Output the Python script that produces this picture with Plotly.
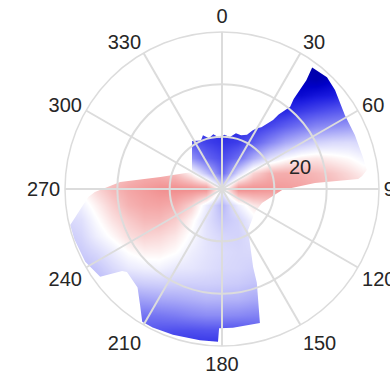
import math
import plotly.graph_objects as go

# ---------------------------------------------------------------------------
# Field samples on a regular x/y grid (same units as the radial axis, 0-30).
# Rows run from the top (y = 30) to the bottom (y = -30); None = no sample.
# ---------------------------------------------------------------------------
grid_x = [-30, -27, -24, -21, -18, -15, -12, -9, -6, -3, 0,
          3, 6, 9, 12, 15, 18, 21, 24, 27, 30]
grid_y = [30, 27, 24, 21, 18, 15, 12, 9, 6, 3, 0,
          -3, -6, -9, -12, -15, -18, -21, -24, -27, -30]
N = None
field_rows = [
    [N, N, N, N, N, N, N, N, N, N, N, N, N, N, N, N, N, N, N, N, N],
    [N, N, N, N, N, N, N, N, N, N, N, N, N, N, N, N, N, N, N, N, N],
    [N, N, N, N, N, N, N, N, N, N, 0.78, 0.81, 0.83, 0.86, 0.89, 0.91, 0.93, 0.93, 0.88, N, N],
    [N, N, N, N, N, N, N, N, 0.75, 0.76, 0.77, 0.78, 0.815, 0.84, 0.86, 0.88, 0.91, 0.86, 0.82, N, N],
    [N, N, N, N, N, N, N, 0.73, 0.75, 0.76, 0.75, 0.765, 0.785, 0.80, 0.80, 0.815, 0.78, 0.76, 0.70, 0.64, N],
    [N, N, N, N, N, N, 0.66, 0.70, 0.73, 0.735, 0.735, 0.75, 0.745, 0.74, 0.72, 0.66, 0.62, 0.58, 0.55, 0.50, 0.42],
    [N, N, N, N, N, 0.48, 0.54, 0.62, 0.69, 0.715, 0.72, 0.715, 0.69, 0.63, 0.55, 0.48, 0.42, 0.39, 0.36, 0.32, 0.28],
    [N, N, N, N, N, 0.25, 0.35, 0.47, 0.59, 0.645, 0.69, 0.655, 0.56, 0.43, 0.31, 0.23, 0.17, 0.14, 0.13, 0.15, 0.15],
    [0.08, 0.03, -0.02, -0.06, -0.08, -0.05, 0.07, 0.21, 0.37, 0.53, 0.615, 0.50, 0.29, 0.12, 0.015, -0.05, -0.07, -0.04, -0.01, 0.04, 0.04],
    [0.10, 0.04, -0.05, -0.14, -0.20, -0.24, -0.24, -0.19, -0.03, 0.22, 0.52, 0.15, -0.12, -0.24, -0.25, -0.24, -0.21, -0.17, -0.11, -0.05, -0.03],
    [0.03, -0.015, -0.12, -0.21, -0.275, -0.31, -0.34, -0.355, -0.355, -0.35, 0.05, -0.36, -0.35, -0.33, -0.31, -0.29, -0.26, -0.22, -0.17, -0.12, -0.08],
    [0.11, 0.055, -0.04, -0.14, -0.23, -0.27, -0.28, -0.25, -0.14, 0.065, 0.27, 0.06, -0.065, -0.12, -0.16, -0.18, -0.18, -0.165, -0.13, -0.10, -0.08],
    [0.15, 0.115, 0.013, -0.083, -0.155, -0.21, -0.21, -0.15, -0.03, 0.108, 0.21, 0.16, 0.04, -0.03, -0.08, -0.10, -0.10, -0.10, -0.09, -0.08, -0.07],
    [0.20, 0.15, 0.06, -0.016, -0.094, -0.13, -0.115, -0.07, 0.02, 0.10, 0.15, 0.16, 0.11, 0.05, 0.01, -0.02, -0.04, -0.05, -0.05, -0.04, -0.03],
    [0.22, 0.19, 0.14, 0.073, 0.0, -0.04, -0.04, -0.005, 0.063, 0.10, 0.13, 0.145, 0.14, 0.11, 0.08, 0.05, 0.02, 0.0, -0.01, -0.01, 0.0],
    [0.25, 0.24, 0.21, 0.14, 0.08, 0.055, 0.046, 0.085, 0.093, 0.115, 0.14, 0.15, 0.17, 0.17, 0.13, 0.12, 0.10, 0.10, 0.10, 0.10, 0.10],
    [N, 0.27, 0.25, 0.22, 0.20, 0.18, 0.17, 0.17, 0.17, 0.17, 0.18, 0.19, 0.215, 0.21, 0.20, 0.19, 0.20, 0.20, 0.20, 0.20, N],
    [N, N, 0.32, 0.33, 0.35, 0.33, 0.31, 0.30, 0.28, 0.26, 0.265, 0.27, 0.30, 0.31, 0.31, 0.30, 0.30, 0.30, 0.30, N, N],
    [N, N, 0.38, 0.42, 0.45, 0.48, 0.47, 0.45, 0.42, 0.40, 0.40, 0.41, 0.43, 0.44, 0.41, 0.40, 0.40, 0.40, 0.40, N, N],
    [N, N, N, N, 0.53, 0.57, 0.59, 0.60, 0.60, 0.59, 0.59, 0.59, 0.57, 0.54, 0.52, 0.50, 0.50, N, N, N, N],
    [N, N, N, N, N, 0.63, 0.67, 0.70, 0.70, 0.70, 0.70, 0.68, 0.66, 0.62, 0.60, 0.58, N, N, N, N, N],
]

# Outline of the sampled region (angle clockwise from north, radius), in order
outline_theta = [328, 336.5, 340.5, 345.5, 351, 357, 2.5, 8.7, 14, 19.5,
                 24.8, 27.5, 29.8, 32.5, 36.5, 37.2, 39.7, 38.5, 38.2, 37.8,
                 36.6, 43.2, 48.8, 59, 67.9, 77.2, 82.5, 84.7, 85.8, 86.3,
                 91, 109.3, 124.9, 147.6, 158.3, 159.6, 164.2, 175.5, 181.2, 181.5,
                 188.3, 198.6, 206.6, 211, 215.3, 220.6, 228.9, 230.6, 234.2, 242,
                 251.2, 256.7, 266.6, 268.6, 273.9, 281, 299.5, 314, 322.4]
outline_r = [10.8, 10.1, 10.9, 10.0, 10.6, 9.8, 10.4, 10.05, 11.0, 10.9,
             11.4, 12.6, 13.4, 14.0, 16.4, 17.9, 20.4, 22.0, 24.1, 26.3,
             28.9, 29.3, 28.7, 27.4, 27.4, 27.6, 27.9, 26.9, 26.1, 17.8,
             11.5, 8.1, 7.7, 9.3, 16.1, 19.1, 26.6, 26.6, 26.6, 29.2,
             29.2, 29.4, 29.6, 29.6, 27.1, 24.8, 24.1, 24.7, 28.7, 29.6,
             29.8, 29.8, 25.6, 24.3, 19.5, 12.0, 6.6, 8.0, 9.4]

angular_ticks = [0, 30, 60, 90, 120, 150, 180, 210, 240, 270, 300, 330]
radial_ticks = [10, 20, 30]
radial_range = [0, 30]
radial_label = "20"
radial_label_theta = 75.6
radial_label_r = 15.4

FONT = "Liberation Sans, Arial, Helvetica, sans-serif"
TEXT = "#262626"
GRID = "#dcdcdc"

# Diverging map: light red (negative) - white (0) - blue / navy (positive)
zmin, zmax = -0.4, 1.0
def pos(v):
    return (v - zmin) / (zmax - zmin)

colorscale = [
    [pos(-0.4), "rgb(238,125,125)"],
    [pos(-0.3), "rgb(243,158,158)"],
    [pos(-0.2), "rgb(246,188,188)"],
    [pos(-0.1), "rgb(250,220,220)"],
    [pos(0.0), "rgb(255,255,255)"],
    [pos(0.2), "rgb(200,200,250)"],
    [pos(0.4), "rgb(140,140,245)"],
    [pos(0.6), "rgb(80,80,238)"],
    [pos(0.75), "rgb(30,30,225)"],
    [pos(0.85), "rgb(0,0,200)"],
    [pos(1.0), "rgb(0,0,140)"],
]

fig = go.Figure()

# Smooth field on the cartesian grid underneath the polar axes
fig.add_trace(go.Heatmap(
    x=grid_x, y=grid_y[::-1], z=field_rows[::-1],
    zmin=zmin, zmax=zmax, colorscale=colorscale, zsmooth="best",
    showscale=False, hoverinfo="skip",
))

# White cover outside the outline (outer square minus the outlined region)
ox = [r * math.sin(math.radians(t)) for t, r in zip(outline_theta, outline_r)]
oy = [r * math.cos(math.radians(t)) for t, r in zip(outline_theta, outline_r)]
E = 32
mask_x = [-E, -E, E, E, -E] + ox + [ox[0], -E]
mask_y = [E, -E, -E, E, E] + oy + [oy[0], E]
fig.add_trace(go.Scatter(
    x=mask_x, y=mask_y, mode="lines", fill="toself",
    fillcolor="white", line=dict(width=0, color="white"),
    hoverinfo="skip", showlegend=False,
))

# Radial tick label
fig.add_trace(go.Scatterpolar(
    r=[radial_label_r], theta=[radial_label_theta], mode="text",
    text=[radial_label], textfont=dict(family=FONT, size=20, color=TEXT),
    hoverinfo="skip", showlegend=False,
))

fig.update_layout(
    width=390, height=371,
    margin=dict(l=65, r=11, t=32, b=25),
    paper_bgcolor="white", plot_bgcolor="white",
    showlegend=False,
    font=dict(family=FONT, size=20, color=TEXT),
    xaxis=dict(domain=[0, 1], range=[-30, 30], visible=False, fixedrange=True),
    yaxis=dict(domain=[0, 1], range=[-30, 30], visible=False, fixedrange=True),
    polar=dict(
        domain=dict(x=[0, 1], y=[0, 1]),
        bgcolor="rgba(0,0,0,0)",
        angularaxis=dict(
            rotation=90, direction="clockwise",
            tickmode="array", tickvals=angular_ticks,
            ticktext=[str(t) for t in angular_ticks],
            showline=True, linecolor=GRID, linewidth=1.5,
            showgrid=True, gridcolor=GRID, gridwidth=1.5,
            ticks="", tickfont=dict(family=FONT, size=20, color=TEXT),
        ),
        radialaxis=dict(
            range=radial_range, tickvals=radial_ticks,
            showticklabels=False, ticks="", showline=False,
            showgrid=True, gridcolor=GRID, gridwidth=1.5,
        ),
    ),
)

fig.write_html("out.html")
